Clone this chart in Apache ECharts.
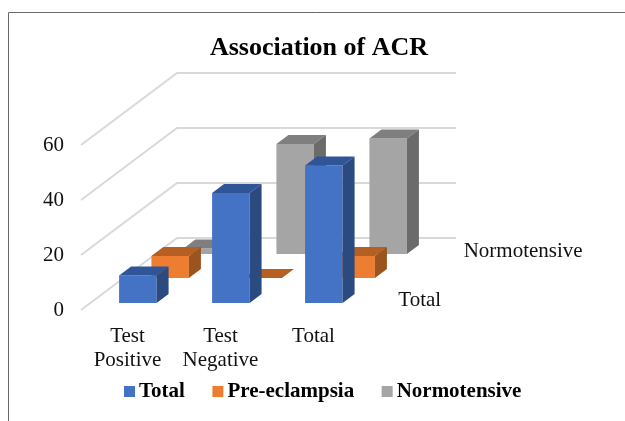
<!DOCTYPE html>
<html>
<head>
<meta charset="utf-8">
<style>
html, body { margin: 0; padding: 0; background: #fff; }
#chart { width: 625px; height: 421px; }
</style>
<script src="https://cdn.jsdelivr.net/npm/echarts@6/dist/echarts.min.js"></script>
</head>
<body>
<div id="chart"></div>
<script>
var categories = ['Test\nPositive', 'Test\nNegative', 'Total'];
var totalValues = [10, 40, 50];
var preValues = [8, 0, 8];
var normoValues = [2, 40, 42];
var yTicks = [0, 20, 40, 60];
var depthNames = ['Total', 'Normotensive'];

var font = 'Liberation Serif';
var textColor = '#111';

// fake 3d: how far back a row sits, in px up the side wall
var wallDepth = 72;
var rowDepth = { total: 7, pre: 32, normo: 56 };
var barDepth = 9;
var barHalf = 18.75;

function back(p, d) {
	return [p[0] + d * 4 / 3, p[1] - d];
}

function barRenderer(depth, colors, shift) {
	return function(params, api) {
		var base = back(api.coord([api.value(0), 0]), depth);
		var top = back(api.coord([api.value(0), api.value(1)]), depth);
		var l = base[0] + shift - barHalf, r = base[0] + shift + barHalf;
		var dx = barDepth * 4 / 3, dy = barDepth;
		return {
			type : 'group',
			children : [ {
				type : 'polygon',
				shape : { points : [ [l, top[1]], [r, top[1]], [r, base[1]], [l, base[1]] ] },
				style : { fill : colors[0] }
			}, {
				type : 'polygon',
				shape : { points : [ [l, top[1]], [l + dx, top[1] - dy], [r + dx, top[1] - dy], [r, top[1]] ] },
				style : { fill : colors[1] }
			}, {
				type : 'polygon',
				shape : { points : [ [r, top[1]], [r + dx, top[1] - dy], [r + dx, base[1] - dy], [r, base[1]] ] },
				style : { fill : colors[2] }
			} ]
		};
	};
}

function barData(values) {
	return values.map(function(v, i) {
		return [i, v];
	});
}

function barSeries(name, values, depth, colors, shift) {
	return {
		name : name,
		type : 'custom',
		clip : false,
		silent : true,
		itemStyle : { color : colors[0] },
		encode : { x : 0, y : 1 },
		data : barData(values),
		renderItem : barRenderer(depth, colors, shift)
	};
}

var mychart = echarts.init(document.getElementById('chart'), null, { renderer : 'canvas' });

var option = {
	animation : false,
	backgroundColor : '#fff',
	title : {
		text : 'Association of ACR',
		left : 314,
		top : 30,
		textAlign : 'center',
		textStyle : { fontFamily : font, fontWeight : 'bold', fontSize : 26, color : '#000' }
	},
	legend : {
		left : 124,
		top : 381,
		padding : 0,
		selectedMode : false,
		itemWidth : 11,
		itemHeight : 11,
		itemGap : 27.5,
		data : [
			{ name : 'Total', icon : 'rect' },
			{ name : 'Pre-eclampsia', icon : 'rect' },
			{ name : 'Normotensive', icon : 'rect' }
		],
		textStyle : { fontFamily : font, fontWeight : 'bold', fontSize : 21, color : '#000', padding : [0, 0, 0, -1] }
	},
	grid : { left : 81, right : 265, top : 145, bottom : 111 },
	xAxis : {
		type : 'category',
		data : categories,
		axisLine : { show : false },
		axisTick : { show : false },
		axisLabel : { fontFamily : font, fontSize : 21, color : textColor, lineHeight : 24, margin : 14, interval : 0 }
	},
	yAxis : {
		type : 'value',
		min : 0,
		max : 60,
		interval : 20,
		axisLine : { show : false },
		axisTick : { show : false },
		splitLine : { show : false },
		axisLabel : { fontFamily : font, fontSize : 21, color : textColor, margin : 17, padding : [0, 0, 12, 0] }
	},
	series : [ {
		// walls: side line then back line for each tick
		type : 'custom',
		clip : false,
		silent : true,
		encode : { y : 0 },
		data : yTicks.map(function(v) { return [v]; }),
		renderItem : function(params, api) {
			var cs = params.coordSys;
			var y = api.coord([0, api.value(0)])[1];
			var a = [cs.x, y];
			var b = back(a, wallDepth);
			var c = [b[0] + cs.width, b[1]];
			return {
				type : 'polyline',
				shape : { points : [a, b, c] },
				style : { fill : 'none', stroke : '#d9d9d9', lineWidth : 2 }
			};
		}
	},
	barSeries('Normotensive', normoValues, rowDepth.normo, ['#A5A5A5', '#7F7F7F', '#6B6B6B'], 0),
	barSeries('Pre-eclampsia', preValues, rowDepth.pre, ['#ED7D31', '#B55F22', '#9A5420'], 0),
	barSeries('Total', totalValues, rowDepth.total, ['#4472C4', '#2F5597', '#2A4A80'], 1),
	{
		// depth axis labels on the right of the floor
		type : 'custom',
		clip : false,
		silent : true,
		encode : { x : 0 },
		data : [ [0], [1] ],
		renderItem : function(params, api) {
			var cs = params.coordSys;
			var i = api.value(0);
			var d = (i === 0 ? rowDepth.total : rowDepth.normo) + barDepth / 2;
			var p = back([cs.x + cs.width, cs.y + cs.height], d);
			return {
				type : 'text',
				style : {
					text : depthNames[i],
					x : p[0] + 23,
					y : p[1] + 1.5,
					textAlign : 'left',
					textVerticalAlign : 'middle',
					fontFamily : font,
					fontSize : 21,
					fill : textColor
				}
			};
		}
	} ],
	graphic : [ {
		type : 'polyline',
		silent : true,
		shape : { points : [ [8.5, 421], [8.5, 12.5], [625, 12.5] ] },
		style : { fill : 'none', stroke : '#6a6a6a', lineWidth : 1 }
	} ]
};

mychart.setOption(option);
</script>
</body>
</html>
